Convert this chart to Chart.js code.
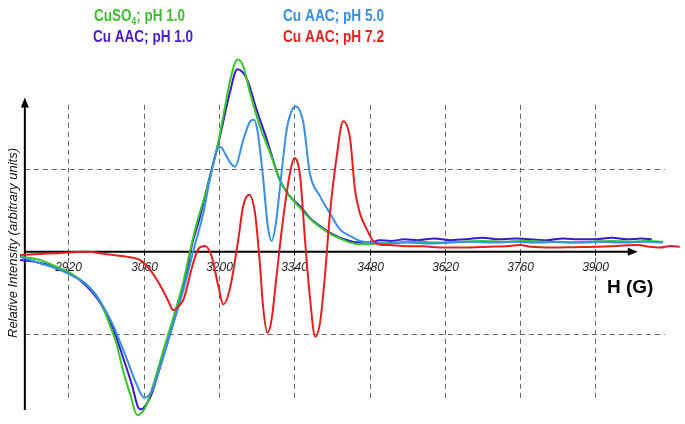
<!DOCTYPE html>
<html>
<head>
<meta charset="utf-8">
<script src="https://cdn.jsdelivr.net/npm/chart.js@4"></script>
<style>
  html, body { margin: 0; padding: 0; background: #fff; }
  #wrap { width: 685px; height: 424px; }
</style>
</head>
<body>
<div id="wrap"><canvas id="epr" width="685" height="424"></canvas></div>
<script>
// field values (G) and relative intensities
const cuso4Field = [2830, 2867, 2904, 2923, 2954, 2979, 2997, 3010, 3022, 3035, 3048, 3062, 3078, 3096, 3115, 3134, 3146, 3159, 3177, 3196, 3208, 3220, 3230, 3235, 3245, 3258, 3276, 3295, 3313, 3332, 3351, 3369, 3388, 3406, 3425, 3444, 3462, 3481, 3499, 3530, 3570, 3610, 3650, 3690, 3730, 3770, 3810, 3850, 3890, 3930, 3970, 4000, 4026];
const cuso4Signal = [-0.06, -0.10, -0.20, -0.26, -0.40, -0.60, -0.89, -1.13, -1.45, -1.73, -1.98, -1.90, -1.61, -1.21, -0.80, -0.36, 0.0, 0.35, 0.75, 1.24, 1.64, 2.05, 2.29, 2.33, 2.25, 1.92, 1.52, 1.20, 0.87, 0.67, 0.53, 0.40, 0.30, 0.22, 0.16, 0.11, 0.09, 0.09, 0.10, 0.11, 0.12, 0.11, 0.12, 0.13, 0.12, 0.13, 0.12, 0.11, 0.12, 0.13, 0.12, 0.13, 0.12];

const aac1Field = [2830, 2855, 2892, 2923, 2954, 2979, 3003, 3022, 3038, 3050, 3055, 3059, 3072, 3090, 3109, 3128, 3143, 3147, 3165, 3183, 3202, 3220, 3234, 3252, 3270, 3289, 3313, 3332, 3351, 3369, 3388, 3406, 3425, 3444, 3462, 3481, 3499, 3520, 3545, 3570, 3600, 3630, 3660, 3690, 3720, 3750, 3780, 3810, 3840, 3870, 3900, 3930, 3960, 3985, 4005];
const aac1Signal = [-0.10, -0.12, -0.18, -0.26, -0.42, -0.62, -0.93, -1.29, -1.61, -1.89, -1.91, -1.90, -1.77, -1.41, -1.00, -0.56, -0.16, 0.0, 0.43, 0.91, 1.40, 1.92, 2.21, 2.09, 1.72, 1.36, 0.87, 0.67, 0.55, 0.41, 0.31, 0.23, 0.17, 0.13, 0.11, 0.11, 0.14, 0.13, 0.15, 0.14, 0.16, 0.14, 0.15, 0.17, 0.15, 0.16, 0.15, 0.14, 0.16, 0.15, 0.15, 0.17, 0.15, 0.16, 0.15];

const aac5Field = [2830, 2867, 2904, 2929, 2954, 2979, 3003, 3028, 3047, 3061, 3075, 3090, 3109, 3134, 3152, 3171, 3183, 3196, 3203, 3212, 3221, 3230, 3245, 3258, 3265, 3272, 3282, 3291, 3298, 3306, 3313, 3326, 3336, 3343, 3357, 3369, 3388, 3406, 3425, 3444, 3462, 3481, 3510, 3550, 3590, 3630, 3670, 3710, 3750, 3790, 3830, 3870, 3910, 3950, 3990, 4026];
const aac5Signal = [-0.06, -0.14, -0.22, -0.30, -0.40, -0.60, -0.89, -1.29, -1.61, -1.77, -1.69, -1.41, -1.00, -0.46, 0.0, 0.47, 0.87, 1.22, 1.27, 1.18, 1.08, 1.03, 1.35, 1.58, 1.60, 1.45, 0.90, 0.30, 0.13, 0.35, 0.75, 1.48, 1.72, 1.76, 1.56, 0.95, 0.67, 0.47, 0.27, 0.19, 0.13, 0.11, 0.10, 0.11, 0.10, 0.11, 0.12, 0.11, 0.12, 0.11, 0.12, 0.11, 0.12, 0.11, 0.12, 0.11];

const aac72Field = [2830, 2892, 2954, 2991, 3028, 3053, 3072, 3090, 3106, 3115, 3128, 3134, 3152, 3163, 3174, 3186, 3199, 3208, 3220, 3236, 3245, 3256, 3267, 3276, 3282, 3290, 3298, 3307, 3320, 3332, 3340, 3351, 3360, 3369, 3379, 3388, 3397, 3406, 3419, 3431, 3444, 3453, 3462, 3475, 3487, 3499, 3518, 3540, 3580, 3620, 3660, 3700, 3740, 3760, 3780, 3820, 3860, 3900, 3940, 3980, 4000, 4020, 4040, 4057];
const aac72Signal = [-0.04, -0.02, 0.0, -0.03, -0.06, -0.10, -0.22, -0.40, -0.60, -0.71, -0.64, -0.58, -0.14, 0.045, 0.07, -0.05, -0.42, -0.64, -0.46, 0.15, 0.55, 0.69, 0.47, -0.14, -0.66, -0.985, -0.82, -0.30, 0.43, 0.95, 1.135, 0.91, 0.145, -0.54, -1.03, -0.86, -0.30, 0.43, 1.155, 1.58, 1.36, 0.75, 0.47, 0.27, 0.125, 0.085, 0.08, 0.07, 0.065, 0.05, 0.05, 0.06, 0.07, 0.08, 0.06, 0.05, 0.055, 0.06, 0.07, 0.08, 0.06, 0.05, 0.07, 0.06];

const fieldTicks = [2920, 3060, 3200, 3340, 3480, 3620, 3760, 3900];
const intensityGrid = [1, -1];

const toPoints = (xs, ys) => xs.map((v, i) => ({ x: v, y: ys[i] }));

const axesPlugin = {
    id: 'axesPlugin',
    beforeDatasetsDraw(chart) {
        const { ctx, scales: { x, y } } = chart;
        const x0 = x.getPixelForValue(2839);
        const y0 = y.getPixelForValue(0);
        ctx.save();

        // dashed grid
        ctx.strokeStyle = '#666';
        ctx.lineWidth = 1;
        ctx.setLineDash([5, 4]);
        fieldTicks.forEach(t => {
            const px = Math.round(x.getPixelForValue(t)) + 0.5;
            ctx.beginPath();
            ctx.moveTo(px, y.getPixelForValue(1.78));
            ctx.lineTo(px, y.getPixelForValue(-1.82));
            ctx.stroke();
        });
        intensityGrid.forEach(g => {
            const py = Math.round(y.getPixelForValue(g)) + 0.5;
            ctx.beginPath();
            ctx.moveTo(x0, py);
            ctx.lineTo(x.getPixelForValue(4029), py);
            ctx.stroke();
        });

        // axes
        ctx.setLineDash([]);
        ctx.strokeStyle = '#000';
        ctx.fillStyle = '#000';
        ctx.lineWidth = 2;
        const xEnd = x.getPixelForValue(3979);
        ctx.beginPath();
        ctx.moveTo(x0, y0);
        ctx.lineTo(xEnd - 6, y0);
        ctx.stroke();
        ctx.beginPath();
        ctx.moveTo(xEnd, y0);
        ctx.lineTo(xEnd - 10, y0 - 4);
        ctx.lineTo(xEnd - 10, y0 + 4);
        ctx.closePath();
        ctx.fill();

        const yTop = y.getPixelForValue(1.87);
        ctx.beginPath();
        ctx.moveTo(x0, y.getPixelForValue(-1.92));
        ctx.lineTo(x0, yTop + 6);
        ctx.stroke();
        ctx.beginPath();
        ctx.moveTo(x0, yTop);
        ctx.lineTo(x0 - 4, yTop + 10);
        ctx.lineTo(x0 + 4, yTop + 10);
        ctx.closePath();
        ctx.fill();

        // ticks and tick labels
        ctx.lineWidth = 1;
        ctx.font = 'italic 12px "Liberation Sans", Arial, sans-serif';
        ctx.fillStyle = '#222';
        ctx.textAlign = 'center';
        ctx.textBaseline = 'middle';
        fieldTicks.forEach(t => {
            const px = Math.round(x.getPixelForValue(t)) + 0.5;
            ctx.beginPath();
            ctx.moveTo(px, y0);
            ctx.lineTo(px, y0 + 4);
            ctx.stroke();
            ctx.fillText(String(t), px, y0 + 16);
        });

        // axis titles
        ctx.fillStyle = '#000';
        ctx.font = 'bold 19px "Liberation Sans", Arial, sans-serif';
        ctx.textAlign = 'left';
        ctx.textBaseline = 'alphabetic';
        ctx.fillText('H (G)', 607, 293);

        ctx.save();
        ctx.translate(17, 243);
        ctx.rotate(-Math.PI / 2);
        ctx.font = 'italic 13px "Liberation Sans", Arial, sans-serif';
        ctx.fillStyle = '#111';
        ctx.textAlign = 'center';
        ctx.fillText('Relative Intensity (arbitrary units)', 0, 0);
        ctx.restore();

        ctx.restore();
    },
    afterDraw(chart) {
        const { ctx } = chart;
        const font = 'bold 16px "Liberation Sans", Arial, sans-serif';
        const small = 'bold 10px "Liberation Sans", Arial, sans-serif';
        const drawFit = (parts, left, base, width, color) => {
            ctx.save();
            ctx.fillStyle = color;
            ctx.textBaseline = 'alphabetic';
            let total = 0;
            parts.forEach(p => { ctx.font = p.sub ? small : font; total += ctx.measureText(p.t).width; });
            ctx.translate(left, base);
            ctx.scale(width / total, 1);
            let cx = 0;
            parts.forEach(p => {
                ctx.font = p.sub ? small : font;
                ctx.fillText(p.t, cx, p.sub ? 4 : 0);
                cx += ctx.measureText(p.t).width;
            });
            ctx.restore();
        };
        drawFit([{ t: 'CuSO' }, { t: '4', sub: true }, { t: '; pH 1.0' }], 94, 21, 91, '#3cbf2c');
        drawFit([{ t: 'Cu AAC; pH 1.0' }], 93, 42, 100, '#4a1ccc');
        drawFit([{ t: 'Cu AAC; pH 5.0' }], 283, 21, 101, '#3a8ee0');
        drawFit([{ t: 'Cu AAC; pH 7.2' }], 283, 42, 101, '#e42222');
    }
};

const makeSet = (label, xs, ys, color) => ({
    label: label,
    data: toPoints(xs, ys),
    borderColor: color,
    backgroundColor: color,
    borderWidth: 2,
    pointRadius: 0,
    fill: false,
    cubicInterpolationMode: 'monotone'
});

const ctx = document.getElementById('epr').getContext('2d');
const chart = new Chart(ctx, {
    type: 'line',
    data: {
        datasets: [
            makeSet('Cu AAC; pH 7.2', aac72Field, aac72Signal, 'rgba(232, 30, 30, 1)'),
            makeSet('Cu AAC; pH 5.0', aac5Field, aac5Signal, 'rgba(58, 142, 230, 1)'),
            makeSet('CuSO4; pH 1.0', cuso4Field, cuso4Signal, 'rgba(52, 200, 40, 1)'),
            makeSet('Cu AAC; pH 1.0', aac1Field, aac1Signal, 'rgba(62, 22, 214, 1)')
        ]
    },
    options: {
        responsive: false,
        animation: false,
        devicePixelRatio: 1,
        layout: { padding: { left: 20, right: 2, top: 52, bottom: 4 } },
        plugins: { legend: { display: false }, tooltip: { enabled: false } },
        scales: {
            x: { type: 'linear', min: 2830, max: 4063, display: false },
            y: { min: -2.04, max: 2.42, display: false }
        }
    },
    plugins: [axesPlugin]
});
</script>
</body>
</html>
